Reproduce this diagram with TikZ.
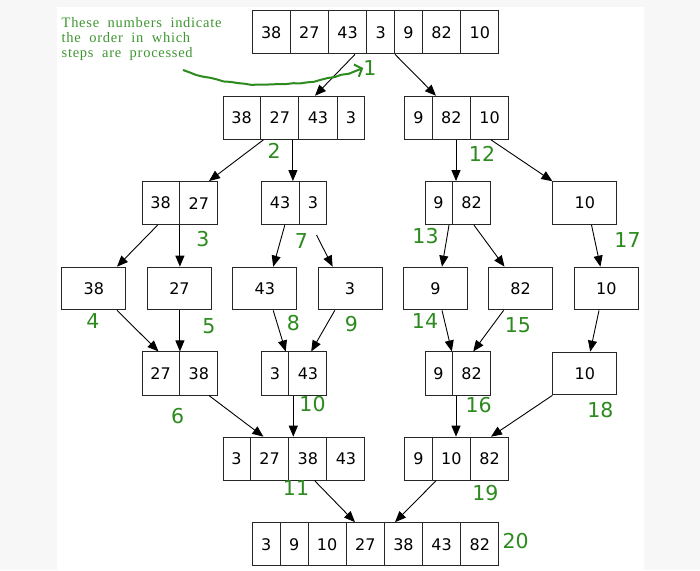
\documentclass[tikz,border=0pt]{standalone}
\usepackage{fontspec}
\newfontfamily\cellfont{DejaVu Sans}
\newfontfamily\notefont[LetterSpace=5]{Liberation Serif}
\usetikzlibrary{arrows.meta,shapes.multipart,decorations.pathmorphing}
\definecolor{ink}{HTML}{262626}
\definecolor{stepgreen}{HTML}{2C8A1E}
\definecolor{notegreen}{HTML}{3F9632}
\definecolor{page}{HTML}{F7F7F7}
\newcommand{\widespace}{\spaceskip=8.5pt\relax}
\tikzset{
  >={Triangle[length=11pt,width=9pt]},
  box/.style={draw=ink,line width=1pt,fill=white,font=\cellfont\fontsize{16pt}{16pt}\selectfont,
    rectangle split,rectangle split horizontal,inner xsep=8.4pt,inner ysep=15.5pt},
  one/.style={draw=ink,line width=1pt,fill=white,font=\cellfont\fontsize{16pt}{16pt}\selectfont,
    minimum width=64pt,minimum height=42.7pt,inner sep=0pt},
  lab/.style={font=\cellfont\fontsize{20.5pt}{20.5pt}\selectfont,text=stepgreen,inner sep=0pt},
  note/.style={font=\notefont\fontsize{14.5pt}{15pt}\selectfont,
    text=notegreen,align=left,inner sep=0pt},
  arr/.style={->,draw=black,line width=0.9pt},
  hand/.style={-{Straight Barb[length=6pt,width=13pt]},draw=stepgreen,line width=2pt,
    decoration={random steps,segment length=7pt,amplitude=0.7pt,post length=8pt},decorate},
}

\begin{document}
\begin{tikzpicture}[x=1pt,y=-1pt]
\pgfmathsetseed{7}
\useasboundingbox (0,0) rectangle (700,570);
\fill[page] (0,0) rectangle (700,570);
\fill[white] (57,7) rectangle (644,570);

% splitting
\node[box,rectangle split parts=7] (top) at (375.5,32.3) {38\nodepart{two}27\nodepart{three}43\nodepart{four}3\nodepart{five}9\nodepart{six}82\nodepart{seven}10};
\node[box,rectangle split parts=4] (a) at (293.8,117.8) {38\nodepart{two}27\nodepart{three}43\nodepart{four}3};
\node[box,rectangle split parts=3] (b) at (456.5,117.8) {9\nodepart{two}82\nodepart{three}10};
\node[box,rectangle split parts=2] (c1) at (179.7,203.1) {38\nodepart{two}27};
\node[box,rectangle split parts=2] (c2) at (294,203.1) {43\nodepart{two}3};
\node[box,rectangle split parts=2] (c3) at (457.6,203.1) {9\nodepart{two}82};
\node[one] (c4) at (584.9,203.1) {10};
\node[one] (d1) at (93.8,288.5) {38};
\node[one] (d2) at (179.5,288.5) {27};
\node[one] (d3) at (264.8,288.5) {43};
\node[one] (d4) at (350,288.5) {3};
\node[one] (d5) at (435.5,288.5) {9};
\node[one] (d6) at (520.6,288.5) {82};
\node[one] (d7) at (606.3,288.5) {10};
% merging
\node[box,rectangle split parts=2] (e1) at (179.7,373.5) {27\nodepart{two}38};
\node[box,rectangle split parts=2] (e2) at (294,373.5) {3\nodepart{two}43};
\node[box,rectangle split parts=2] (e3) at (457.6,373.5) {9\nodepart{two}82};
\node[one] (e4) at (584.9,373.5) {10};
\node[box,rectangle split parts=4] (f1) at (293.8,458.7) {3\nodepart{two}27\nodepart{three}38\nodepart{four}43};
\node[box,rectangle split parts=3] (f2) at (456.5,458.7) {9\nodepart{two}10\nodepart{three}82};
\node[box,rectangle split parts=7] (g) at (375.5,544.2) {3\nodepart{two}9\nodepart{three}10\nodepart{four}27\nodepart{five}38\nodepart{six}43\nodepart{seven}82};

\draw[arr] (top.south -| 355,0) -- (a.north -| 315,0);
\draw[arr] (top.south -| 395,0) -- (b.north -| 436,0);
\draw[arr] (a.south -| 263.4,0) -- (c1.north -| 209,0);
\draw[arr] (a.south -| 292.9,0) -- (c2.north -| 292.9,0);
\draw[arr] (b.south -| 456,0) -- (c3.north -| 456,0);
\draw[arr] (b.south -| 491,0) -- (c4.north west);
\draw[arr] (c1.south -| 157.6,0) -- (d1.north -| 117,0);
\draw[arr] (c1.south -| 179.9,0) -- (d2.north -| 179.9,0);
\draw[arr] (c2.south -| 284.8,0) -- (d3.north -| 273.2,0);
\draw[arr,shorten <=11pt] (c2.south -| 311.5,0) -- (d4.north -| 332.6,0);
\draw[arr] (c3.south -| 449,0) -- (d5.north -| 442,0);
\draw[arr] (c3.south -| 474,0) -- (d6.north -| 504.5,0);
\draw[arr] (c4.south -| 591.5,0) -- (d7.north -| 600.4,0);
\draw[arr] (d1.south -| 117,0) -- (e1.north -| 158.5,0);
\draw[arr] (d2.south -| 179.9,0) -- (e1.north -| 179.9,0);
\draw[arr] (d3.south -| 273.2,0) -- (e2.north -| 285.7,0);
\draw[arr] (d4.south -| 334.8,0) -- (e2.north -| 311.2,0);
\draw[arr] (d5.south -| 442,0) -- (e3.north -| 451.8,0);
\draw[arr] (d6.south -| 503.6,0) -- (e3.north -| 473.2,0);
\draw[arr] (d7.south -| 599,0) -- (e4.north -| 590.2,0);
\draw[arr] (e1.south -| 209,0) -- (f1.north -| 263.4,0);
\draw[arr] (e2.south -| 293.3,0) -- (f1.north -| 293.3,0);
\draw[arr] (e3.south -| 456,0) -- (f2.north -| 456,0);
\draw[arr] (e4.south west) -- (f2.north -| 491,0);
\draw[arr] (f1.south -| 314.7,0) -- (g.north -| 355,0);
\draw[arr] (f2.south -| 436,0) -- (g.north -| 395,0);

% step order
\node[lab] (n1) at (370,68) {1};
\node[lab] (n2) at (274.1,151.3) {2};
\node[lab] (n12) at (482,154) {12};
\node[lab] (n3) at (203,239.5) {3};
\node[lab] (n7) at (301.3,240.7) {7};
\node[lab] (n13) at (425.5,236.5) {13};
\node[lab] (n17) at (627.5,240) {17};
\node[lab] (n4) at (92.9,321) {4};
\node[lab] (n5) at (209,326) {5};
\node[lab] (n8) at (293.3,323) {8};
\node[lab] (n9) at (351.3,323.6) {9};
\node[lab] (n14) at (425,321) {14};
\node[lab] (n15) at (517.9,324.7) {15};
\node[lab] (n6) at (177.7,416.4) {6};
\node[lab] (n10) at (312.5,404.4) {10};
\node[lab] (n16) at (478.6,405.5) {16};
\node[lab] (n18) at (600.4,410.2) {18};
\node[lab] (n11) at (296,488) {11};
\node[lab] (n19) at (485.3,492.7) {19};
\node[lab] (n20) at (515.6,541) {20};

\node[note,anchor=north west] (note) at (61.5,17.5) {\widespace These numbers indicate\\\widespace the order in which\\\widespace steps are processed};
\coordinate (tail) at (183,70);
\draw[hand] (tail) .. controls (240,92) and (312,88) .. (n1.west);
\end{tikzpicture}
\end{document}
